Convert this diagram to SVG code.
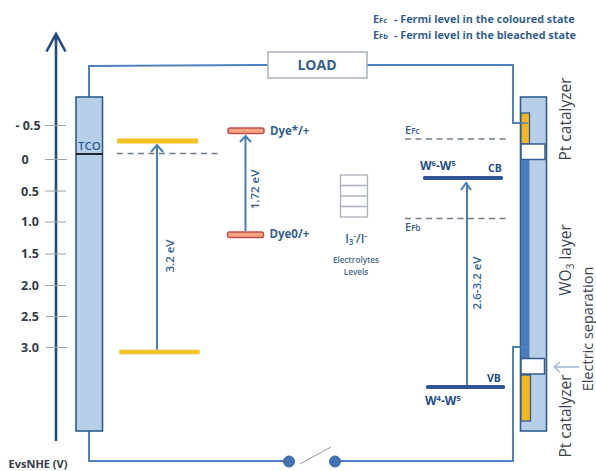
<svg xmlns="http://www.w3.org/2000/svg" width="596" height="471" viewBox="0 0 596 471">
<style>
text{font-family:"Open Sans","Liberation Sans",sans-serif}
.tick{font-size:12.5px;font-weight:700;fill:#333b47;text-anchor:middle}
.tl{stroke:#9aa5b1;stroke-width:1.2;fill:none}
.wire{stroke:#4f81bd;stroke-width:2;fill:none}
.dash{stroke:#6f7f90;stroke-width:1.3;stroke-dasharray:6 4.5;fill:none}
.blue{fill:#365f91;font-weight:700}
.lvl{fill:#1f4e8c;font-weight:700}
.arr{stroke:#4a7ebb;stroke-width:2;fill:none}
.frame{fill:#b8cfea;stroke:#2f5d8f;stroke-width:1.6}
.side{font-size:15.5px;fill:#3b4350}
</style>
<rect width="596" height="471" fill="#fff"/>
<g id="axis">
<path d="M56 441V34M46.500 51.500L56 34L65.500 51.500" fill="none" stroke="#254a85" stroke-width="2.600"/>
<path class="tl" d="M45 125.500H66M45 159.500H67M45 191H66M45 222H66M45 254H66M45 285.500H66M46 316.500H67M46 347.500H67"/>
<text class="tick" x="28" y="129.500">- 0.5</text>
<text class="tick" x="25" y="163.500">0</text>
<text class="tick" x="30" y="195.500">0.5</text>
<text class="tick" x="30" y="226">1.0</text>
<text class="tick" x="30" y="258">1.5</text>
<text class="tick" x="30" y="289.500">2.0</text>
<text class="tick" x="30" y="320.500">2.5</text>
<text class="tick" x="30" y="351.500">3.0</text>
<text x="38" y="467.500" font-size="11" font-weight="700" fill="#333b47" text-anchor="middle">EvsNHE (V)</text>
</g>
<g id="connectors">
<path class="wire" d="M89 97V66L268 65"/>
<path class="wire" d="M367 65H513V123H528"/>
<path class="wire" d="M89 431V461H289"/>
<path class="wire" d="M335 461H513V347H528"/>
<path d="M300 464L331 447" stroke="#8d98a5" stroke-width="1" fill="none"/>
<path class="dash" d="M117 153.500H222"/>
<path class="dash" d="M405 139H510"/>
<path class="dash" d="M405 218.500H510"/>
<path class="arr" d="M157 350V145M151 152L157 145L163 152" stroke-width="2.200"/>
<path class="arr" d="M245.500 231V136M240 142L245.500 136L251 142" stroke-width="2.200"/>
<path class="arr" d="M467 386V183M461 190L466 183L471 190" stroke-width="2.200"/>
<path d="M554 367H579M554 367L560 362M554 367L560 372" stroke="#9db7d5" stroke-width="1.300" fill="none"/>
</g>
<g id="tco">
<rect class="frame" x="76" y="97" width="26.500" height="334"/>
<path d="M76 154H102.500" stroke="#111" stroke-width="1.800"/>
<text x="89.500" y="150" font-size="11.500" font-weight="600" fill="#2f5d8f" text-anchor="middle">TCO</text>
</g>
<g id="load">
<rect x="268" y="52" width="99" height="26" fill="#fff" stroke="#a9b1ba" stroke-width="1.500"/>
<text x="317" y="70" font-size="14" font-weight="700" fill="#365f91" text-anchor="middle">LOAD</text>
</g>
<g id="legend">
<text class="blue" x="373" y="23" font-size="10.800">E<tspan font-size="7.500">Fc</tspan>  <tspan x="394">- Fermi level in the coloured state</tspan></text>
<text class="blue" x="373" y="39" font-size="10.800">E<tspan font-size="7.500">Fb</tspan>  <tspan x="394">- Fermi level in the bleached state</tspan></text>
</g>
<g id="tio2">
<rect x="117" y="138.500" width="81" height="5" fill="#f4c026"/>
<rect x="119.500" y="350" width="80" height="4" rx="1" fill="#f4c026" stroke="#f0cf55"/>
<text transform="translate(174 256) rotate(-90)" x="0" y="0" font-size="11.500" font-weight="600" fill="#365f91" text-anchor="middle">3.2 eV</text>
</g>
<g id="dye">
<rect x="228" y="128" width="36" height="5.500" rx="2" fill="#f4a582" stroke="#c0504d" stroke-width="1.500"/>
<rect x="227.500" y="232" width="36" height="5.500" rx="2" fill="#f4a582" stroke="#c0504d" stroke-width="1.500"/>
<text class="blue" x="270" y="135" font-size="11.500">Dye*/+</text>
<text class="blue" x="269.500" y="238" font-size="11.500">Dye0/+</text>
<text transform="translate(259 189.500) rotate(-90)" font-size="11.500" font-weight="600" fill="#365f91" text-anchor="middle">1.72 eV</text>
</g>
<g id="electrolyte">
<rect x="340.500" y="175" width="27" height="42" fill="#fff" stroke="#a9b1ba" stroke-width="1.300"/>
<path d="M340.500 185.500H367.500M340.500 196H367.500M340.500 206.500H367.500" stroke="#a9b1ba" stroke-width="1.300"/>
<text x="356" y="243" font-size="12" font-weight="600" fill="#365f91" text-anchor="middle">I<tspan font-size="8" dy="2">3</tspan><tspan font-size="8" dy="-6">-</tspan><tspan dy="4">/I</tspan><tspan font-size="8" dy="-4">-</tspan></text>
<text x="356" y="263" font-size="8.200" font-weight="600" fill="#4a6a8a" text-anchor="middle">Electrolytes</text>
<text x="356" y="275" font-size="8.200" font-weight="600" fill="#4a6a8a" text-anchor="middle">Levels</text>
</g>
<g id="wo3-levels">
<rect x="423" y="176" width="80" height="4" rx="1.500" fill="#2f5597"/>
<rect x="426" y="385" width="79" height="4" rx="1.500" fill="#2f5597"/>
<text x="405" y="134" font-size="11" font-weight="600" fill="#365f91">E<tspan font-size="8">Fc</tspan></text>
<text x="405" y="231" font-size="11" font-weight="600" fill="#365f91">E<tspan font-size="8">Fb</tspan></text>
<text class="lvl" x="420" y="170" font-size="12">W<tspan font-size="7.500" dy="-4">6</tspan><tspan dy="4">-W</tspan><tspan font-size="7.500" dy="-4">5</tspan></text>
<text class="lvl" x="488" y="172" font-size="10.500">CB</text>
<text class="lvl" x="487" y="382" font-size="10.500">VB</text>
<text class="lvl" x="425" y="405" font-size="12">W<tspan font-size="7.500" dy="-4">4</tspan><tspan dy="4">-W</tspan><tspan font-size="7.500" dy="-4">5</tspan></text>
<text transform="translate(481 283) rotate(-90)" font-size="11.500" font-weight="600" fill="#365f91" text-anchor="middle">2.6-3.2 eV</text>
</g>
<g id="wo3-electrode">
<rect class="frame" x="520.500" y="97" width="26" height="334"/>
<rect x="521" y="113" width="8.500" height="31" fill="#f6b622" stroke="#2f5d8f" stroke-width="1.300"/>
<rect x="521" y="144" width="24" height="15.500" fill="#fff" stroke="#2f5d8f" stroke-width="1.500"/>
<rect x="521" y="160" width="8.500" height="198" fill="#4a7ebb"/>
<rect x="521" y="358.500" width="23.500" height="15.500" fill="#fff" stroke="#2f5d8f" stroke-width="1.500"/>
<rect x="521" y="375" width="9.500" height="46" fill="#f6b622" stroke="#2f5d8f" stroke-width="1.300"/>
<path d="M513 123H528M513 347H528" stroke="#4f81bd" stroke-width="2" opacity=".7"/>
</g>
<g id="labels">
<text class="side" transform="translate(571 119) rotate(-90)" text-anchor="middle">Pt catalyzer</text>
<text class="side" transform="translate(571 260) rotate(-90)" text-anchor="middle">WO<tspan font-size="10" dy="3">3</tspan><tspan dy="-3"> layer</tspan></text>
<text class="side" transform="translate(571 416) rotate(-90)" text-anchor="middle">Pt catalyzer</text>
<text class="side" transform="translate(593 329) rotate(-90)" text-anchor="middle" style="font-size:14.500px">Electric separation</text>
</g>
<g id="switch">
<circle cx="289" cy="461.500" r="5.500" fill="#4472b4" stroke="#3a66a5"/>
<circle cx="335" cy="461.500" r="5.500" fill="#4472b4" stroke="#3a66a5"/>
</g>
</svg>
